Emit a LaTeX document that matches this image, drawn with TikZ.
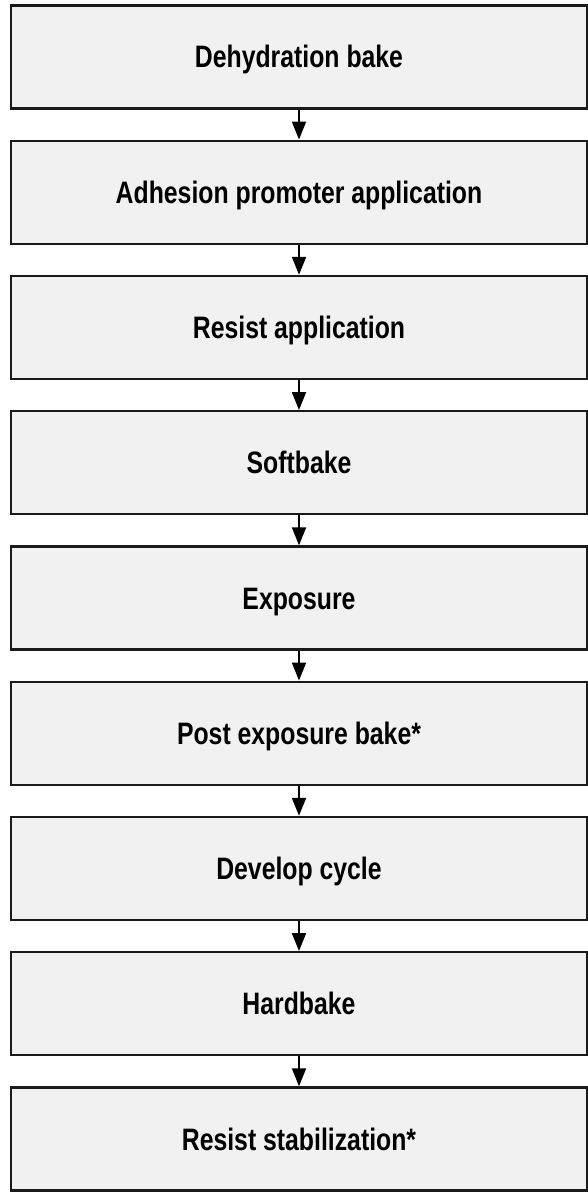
\documentclass[tikz,border=0pt]{standalone}
\usepackage{fontspec}
\setmainfont{Liberation Sans}
\newfontfamily\stepfont{Liberation Sans}[FakeStretch=0.8]
\usetikzlibrary{arrows.meta}
\definecolor{boxfill}{HTML}{F1F1F1}
\definecolor{boxline}{HTML}{1A1A1A}
\tikzset{
  stepbox/.style={draw=boxline, line width=2.4pt, fill=boxfill, minimum width=576pt,
    minimum height=103pt, inner sep=0pt, text height=22pt, text depth=0pt,
    font=\stepfont\bfseries\fontsize{31}{36}\selectfont},
  flow/.style={line width=2pt, -{Triangle[width=14pt,length=18pt]}}
}
\begin{document}
\begin{tikzpicture}[x=1pt,y=-1pt]
\useasboundingbox (0,0) rectangle (588,1196);
\foreach \i/\t in {0/Dehydration bake,1/Adhesion promoter application,2/Resist application,
  3/Softbake,4/Exposure,5/Post exposure bake*,6/Develop cycle,7/Hardbake,8/Resist stabilization*}{
  \node[stepbox] (s\i) at (299,{57+135.25*\i}) {\t};
}
\foreach \i [count=\j] in {0,...,7}{
  \draw[flow] (s\i.south) -- (s\j.north);
}
\end{tikzpicture}
\end{document}
